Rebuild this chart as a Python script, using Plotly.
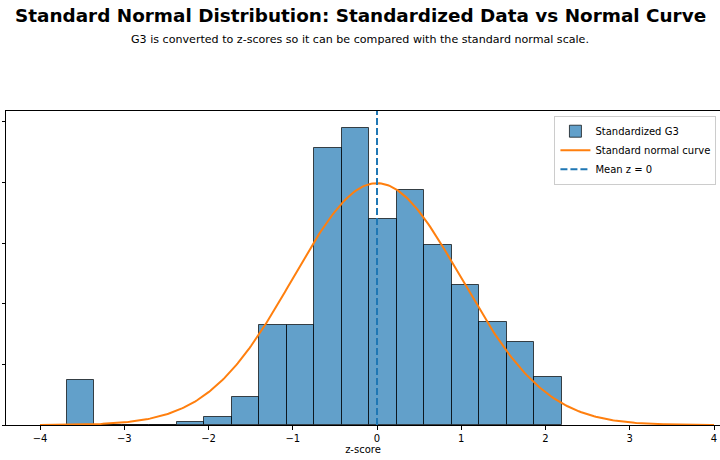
import numpy as np
import plotly.graph_objects as go

# Histogram bin edges (z-score) and densities
bin_edges = [-3.685, -3.358, -3.032, -2.705, -2.378, -2.052, -1.725, -1.398, -1.072,
             -0.745, -0.418, -0.092, 0.235, 0.562, 0.889, 1.215, 1.542, 1.869, 2.195]
densities = [0.075, 0.0, 0.0, 0.0, 0.0047, 0.014, 0.047, 0.165, 0.165,
             0.457, 0.490, 0.340, 0.387, 0.297, 0.231, 0.170, 0.137, 0.080]

x_ticks = [-4, -3, -2, -1, 0, 1, 2, 3, 4]
y_ticks = [0, 0.1, 0.2, 0.3, 0.4, 0.5]
mean_z = 0

title = "Standard Normal Distribution: Standardized Data vs Normal Curve"
subtitle = "G3 is converted to z-scores so it can be compared with the standard normal scale."

centers = [(a + b) / 2 for a, b in zip(bin_edges[:-1], bin_edges[1:])]
widths = [b - a for a, b in zip(bin_edges[:-1], bin_edges[1:])]

# theoretical standard normal curve
z = np.linspace(-4, 4, 400)
pdf = np.exp(-z ** 2 / 2) / np.sqrt(2 * np.pi)

y_top = 0.518

fig = go.Figure()
fig.add_trace(go.Bar(
    x=centers, y=densities, width=widths, name="Standardized G3",
    marker=dict(color="rgba(31,119,180,0.7)", line=dict(color="rgba(0,0,0,0.7)", width=1)),
))
fig.add_trace(go.Scatter(
    x=z, y=pdf, mode="lines", name="Standard normal curve",
    line=dict(color="#ff7f0e", width=2),
))
fig.add_trace(go.Scatter(
    x=[mean_z, mean_z], y=[0, y_top], mode="lines", name="Mean z = 0",
    line=dict(color="#1f77b4", width=2, dash="7px,3px"),
))

F = "DejaVu Sans"
fig.update_layout(
    width=720, height=460,
    margin=dict(l=6, r=0, t=111, b=35, autoexpand=False),
    paper_bgcolor="white", plot_bgcolor="white",
    font=dict(family=F, size=10, color="black"),
    bargap=0,
    showlegend=True,
    legend=dict(
        x=0.995, y=0.985, xanchor="right", yanchor="top",
        bgcolor="rgba(255,255,255,0.8)", bordercolor="#cccccc", borderwidth=1,
        font=dict(family=F, size=10, color="black"),
        tracegroupgap=0, itemwidth=30,
    ),
    xaxis=dict(
        range=[-4.4036, 4.071], tickvals=x_ticks,
        ticktext=[str(v).replace("-", "\u2212") for v in x_ticks],
        showgrid=False, zeroline=False,
        showline=True, linecolor="black", linewidth=1, mirror=True,
        ticks="outside", ticklen=3.5, tickcolor="black", tickwidth=1,
        title=dict(text="z-score", font=dict(family=F, size=10), standoff=2),
        tickfont=dict(family=F, size=10),
    ),
    yaxis=dict(
        range=[0, y_top], tickvals=y_ticks, showticklabels=False,
        showgrid=False, zeroline=False,
        showline=True, linecolor="black", linewidth=1, mirror=False,
        ticks="outside", ticklen=3.5, tickcolor="black", tickwidth=1,
    ),
    annotations=[
        dict(text="<b>" + title + "</b>", xref="paper", yref="paper",
             x=(360 - 6) / 714, y=1 + (111 - 16) / 314, xanchor="center", yanchor="middle",
             showarrow=False, font=dict(family=F, size=18.4, color="black")),
        dict(text=subtitle, xref="paper", yref="paper",
             x=(360 - 6) / 714, y=1 + (111 - 39) / 314, xanchor="center", yanchor="middle",
             showarrow=False, font=dict(family=F, size=11.1, color="black")),
    ],
)

fig.write_html("out.html")
